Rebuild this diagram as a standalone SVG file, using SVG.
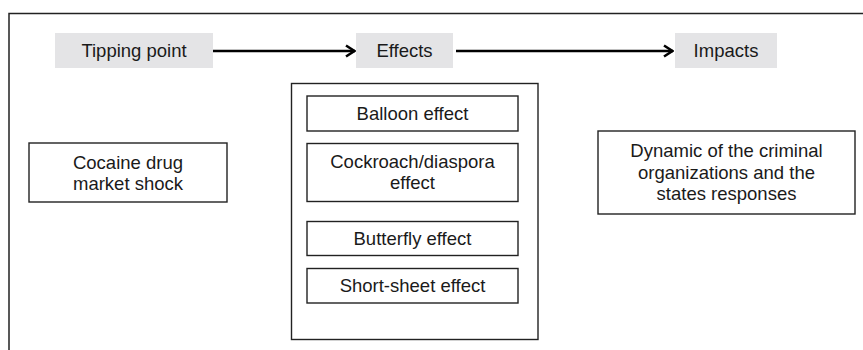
<svg xmlns="http://www.w3.org/2000/svg" width="863" height="350" viewBox="0 0 863 350">
  <style>
    text { font-family: "Liberation Sans", Arial, sans-serif; font-size: 18.5px; fill: #1a1a1a; text-anchor: middle; }
    .frame { fill: none; stroke: #222; stroke-width: 1.5; }
    .box { fill: #fff; stroke: #222; stroke-width: 1.4; }
    .stage { fill: #e4e4e6; stroke: none; }
    .link { fill: none; stroke: #000; stroke-width: 2.6; marker-end: url(#chevron); }
  </style>
  <defs>
    <marker id="chevron" viewBox="0 0 12 14" refX="11" refY="7" markerWidth="12" markerHeight="14" markerUnits="userSpaceOnUse" orient="auto">
      <path d="M2,1.5 L10.5,7 L2,12.5" fill="none" stroke="#000" stroke-width="2.6"/>
    </marker>
  </defs>

  <rect width="863" height="350" fill="#fff"/>

  <!-- outer frame, open on the right and bottom -->
  <path class="frame" d="M9,350 V13.5 H863"/>

  <!-- stage headers -->
  <g id="stage-tipping">
    <rect class="stage" x="55" y="33" width="158" height="35"/>
    <text x="134" y="57">Tipping point</text>
  </g>
  <g id="stage-effects">
    <rect class="stage" x="356" y="33" width="97" height="35"/>
    <text x="404.5" y="57">Effects</text>
  </g>
  <g id="stage-impacts">
    <rect class="stage" x="675" y="33" width="102" height="35"/>
    <text x="726" y="57">Impacts</text>
  </g>

  <!-- connectors -->
  <g id="connectors">
    <line class="link" x1="213" y1="51" x2="355" y2="51"/>
    <line class="link" x1="456" y1="51" x2="673" y2="51"/>
  </g>

  <!-- tipping point node -->
  <g id="cocaine-shock">
    <rect class="box" x="29" y="143" width="198" height="59"/>
    <text x="128" y="169">Cocaine drug</text>
    <text x="128" y="190">market shock</text>
  </g>

  <!-- effects container -->
  <g id="effects-group">
    <rect class="box" x="291.5" y="83.5" width="246.5" height="256"/>
  </g>
  <g id="balloon">
    <rect class="box" x="307" y="96" width="211" height="35"/>
    <text x="412.5" y="119.5">Balloon effect</text>
  </g>
  <g id="cockroach">
    <rect class="box" x="307" y="143.5" width="211" height="58"/>
    <text x="412.5" y="167.5">Cockroach/diaspora</text>
    <text x="412.5" y="189">effect</text>
  </g>
  <g id="butterfly">
    <rect class="box" x="307" y="221.5" width="211" height="34"/>
    <text x="412.5" y="245">Butterfly effect</text>
  </g>
  <g id="short-sheet">
    <rect class="box" x="307" y="268.5" width="211" height="34.5"/>
    <text x="412.5" y="292">Short-sheet effect</text>
  </g>

  <!-- impacts node -->
  <g id="criminal-dynamics">
    <rect class="box" x="598" y="131" width="257" height="83"/>
    <text x="726.5" y="157">Dynamic of the criminal</text>
    <text x="726.5" y="178.5">organizations and the</text>
    <text x="726.5" y="200">states responses</text>
  </g>
</svg>
